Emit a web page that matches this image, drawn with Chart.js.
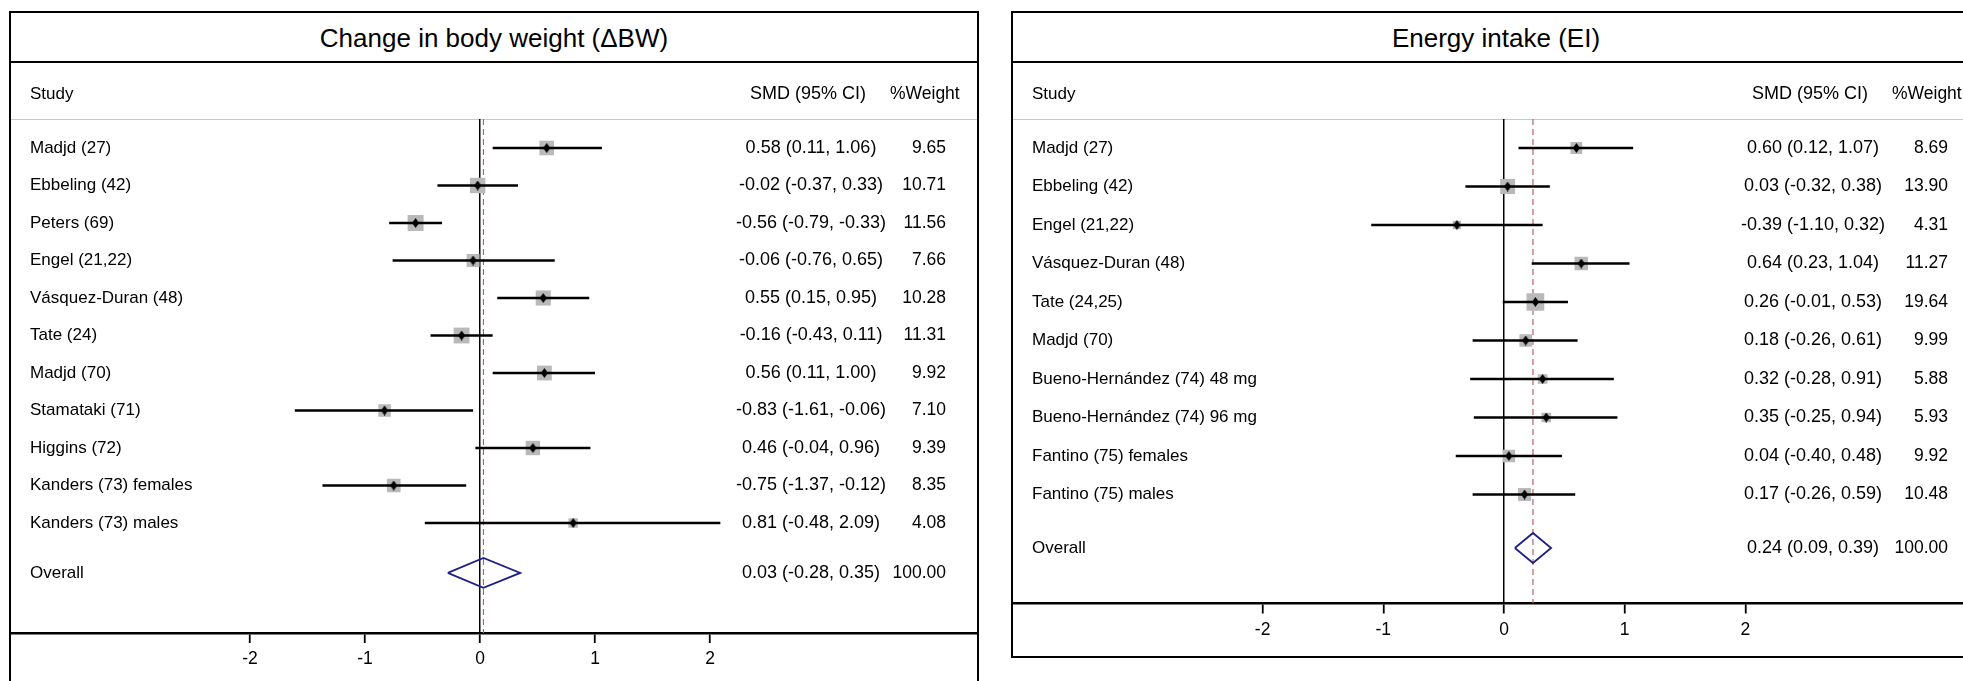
<!DOCTYPE html>
<html>
<head>
<meta charset="utf-8">
<script src="https://cdn.jsdelivr.net/npm/chart.js@4.4.1/dist/chart.umd.min.js"></script>
<style>
  html, body { margin: 0; padding: 0; background: #fff; }
  body { width: 1963px; height: 681px; overflow: hidden; position: relative; font-family: Arial, "Liberation Sans", sans-serif; }
  .panel { position: absolute; top: 11px; width: 970px; border: 2px solid #000; box-sizing: border-box; }
  .title { position: absolute; left: 0; right: 0; top: 0; height: 48px; border-bottom: 2px solid #000; text-align: center; font-size: 26px; line-height: 50px; color: #000; }
  .sep { position: absolute; left: 0; right: 0; top: 106px; height: 1px; background: #c8c8c8; }
  canvas { position: absolute; top: 0; }
</style>
</head>
<body>
<div class="panel" style="left:9px;height:720px;"><div class="title">Change in body weight (ΔBW)</div><div class="sep"></div></div>
<div class="panel" style="left:1011px;height:647px;"><div class="title">Energy intake (EI)</div><div class="sep"></div></div>
<canvas id="bwChart" style="left:10px;"></canvas>
<canvas id="eiChart" style="left:1012px;"></canvas>
<script>
// Datos: cambio de peso corporal (ΔBW)
const bwStudies = ['Madjd (27)', 'Ebbeling (42)', 'Peters (69)', 'Engel (21,22)', 'Vásquez-Duran (48)',
  'Tate (24)', 'Madjd (70)', 'Stamataki (71)', 'Higgins (72)', 'Kanders (73) females', 'Kanders (73) males'];
const bwSmd    = [0.58, -0.02, -0.56, -0.06, 0.55, -0.16, 0.56, -0.83, 0.46, -0.75, 0.81];
const bwLower  = [0.11, -0.37, -0.79, -0.76, 0.15, -0.43, 0.11, -1.61, -0.04, -1.37, -0.48];
const bwUpper  = [1.06, 0.33, -0.33, 0.65, 0.95, 0.11, 1.00, -0.06, 0.96, -0.12, 2.09];
const bwWeight = [9.65, 10.71, 11.56, 7.66, 10.28, 11.31, 9.92, 7.10, 9.39, 8.35, 4.08];
const bwOverall = [0.03, -0.28, 0.35, 100.00];

// Datos: ingesta energética (EI)
const eiStudies = ['Madjd (27)', 'Ebbeling (42)', 'Engel (21,22)', 'Vásquez-Duran (48)', 'Tate (24,25)',
  'Madjd (70)', 'Bueno-Hernández (74) 48 mg', 'Bueno-Hernández (74) 96 mg', 'Fantino (75) females', 'Fantino (75) males'];
const eiSmd    = [0.60, 0.03, -0.39, 0.64, 0.26, 0.18, 0.32, 0.35, 0.04, 0.17];
const eiLower  = [0.12, -0.32, -1.10, 0.23, -0.01, -0.26, -0.28, -0.25, -0.40, -0.26];
const eiUpper  = [1.07, 0.38, 0.32, 1.04, 0.53, 0.61, 0.91, 0.94, 0.48, 0.59];
const eiWeight = [8.69, 13.90, 4.31, 11.27, 19.64, 9.99, 5.88, 5.93, 9.92, 10.48];
const eiOverall = [0.24, 0.09, 0.39, 100.00];

const xTicks = [-2, -1, 0, 1, 2];

const W = 968, H = 681;
const FAMILY = 'Arial, "Liberation Sans", sans-serif';

// Pequeño rombo negro para el punto estimado
const dot = document.createElement('canvas');
dot.width = 7; dot.height = 10;
const dctx = dot.getContext('2d');
dctx.fillStyle = '#000';
dctx.beginPath();
dctx.moveTo(3.5, 0); dctx.lineTo(7, 5); dctx.lineTo(3.5, 10); dctx.lineTo(0, 5);
dctx.closePath(); dctx.fill();

const fmt = v => v.toFixed(2);

// Plugin para las columnas de texto
const forestText = {
  id: 'forestText',
  afterDraw(chart, args, o) {
    const ctx = chart.ctx;
    const ys = chart.scales.y;
    const row = (y, label, est, lo, hi, w) => {
      ctx.font = '17px ' + FAMILY;
      ctx.textAlign = 'left';
      ctx.fillText(label, 20, y);
      ctx.font = '18px ' + FAMILY;
      ctx.textAlign = 'center';
      ctx.fillText(`${fmt(est)} (${fmt(lo)}, ${fmt(hi)})`, 801, y);
      ctx.font = '17.5px ' + FAMILY;
      ctx.textAlign = 'right';
      ctx.fillText(fmt(w), 936, y);
    };
    ctx.save();
    ctx.fillStyle = '#000';
    ctx.textBaseline = 'middle';
    // cabecera
    ctx.font = '17px ' + FAMILY;
    ctx.textAlign = 'left';
    ctx.fillText('Study', 20, 94);
    ctx.font = '17.5px ' + FAMILY;
    ctx.fillText('%Weight', 880, 94);
    ctx.font = '18px ' + FAMILY;
    ctx.textAlign = 'center';
    ctx.fillText('SMD (95% CI)', 798, 94);
    // filas
    o.studies.forEach((s, i) => {
      row(ys.getPixelForValue(i), s, o.smd[i], o.lower[i], o.upper[i], o.weight[i]);
    });
    row(ys.getPixelForValue(o.overallRow), 'Overall', o.overall[0], o.overall[1], o.overall[2], o.overall[3]);
    ctx.restore();
  }
};

function forestChart(id, studies, smd, lower, upper, weight, overall, lay) {
  const canvas = document.getElementById(id);
  canvas.width = W; canvas.height = H;
  const n = studies.length;
  const overallRow = n - 1 + lay.overallGap;
  const xMin = (lay.left - lay.zero) / lay.unit;
  const xMax = (lay.left + W - lay.zero) / lay.unit;
  const yMin = (119 - lay.firstRow) / lay.rowPx;
  const yMax = (lay.axisY - lay.firstRow) / lay.rowPx;
  const halfH = 15 / lay.rowPx;

  const ciLines = studies.map((s, i) => ({
    data: [{ x: lower[i], y: i }, { x: upper[i], y: i }],
    showLine: true, borderColor: '#000', borderWidth: 2.4, pointRadius: 0, order: 2
  }));

  const points = smd.map((v, i) => ({ x: v, y: i }));

  return new Chart(canvas, {
    type: 'scatter',
    data: {
      datasets: [
        {
          // línea discontinua del efecto global
          data: [{ x: overall[0], y: yMin }, { x: overall[0], y: yMax }],
          showLine: true, borderColor: '#b8606a', borderWidth: 1.2, borderDash: [6, 4],
          pointRadius: 0, order: 5
        },
        {
          data: points, pointStyle: 'rect',
          pointRadius: weight.map(w => lay.boxScale * Math.sqrt(w) / Math.SQRT2),
          backgroundColor: '#b9b9b9', borderWidth: 0, order: 3
        },
        ...ciLines,
        {
          data: points, pointStyle: dot, pointRadius: 4, order: 1
        },
        {
          // rombo global
          data: [
            { x: overall[1], y: overallRow }, { x: overall[0], y: overallRow - halfH },
            { x: overall[2], y: overallRow }, { x: overall[0], y: overallRow + halfH },
            { x: overall[1], y: overallRow }
          ],
          showLine: true, borderColor: '#1f1f86', borderWidth: 1.8, pointRadius: 0, order: 1
        }
      ]
    },
    options: {
      responsive: false,
      animation: false,
      events: [],
      layout: { autoPadding: false, padding: { top: 119, bottom: H - lay.axisY - 48, left: 0, right: 0 } },
      plugins: {
        legend: { display: false },
        tooltip: { enabled: false },
        forestText: { studies, smd, lower, upper, weight, overall, overallRow }
      },
      scales: {
        x: {
          type: 'linear', min: xMin, max: xMax,
          afterBuildTicks: s => { s.ticks = xTicks.map(v => ({ value: v })); },
          afterFit: s => { s.height = 48; },
          grid: {
            drawOnChartArea: true,
            color: c => (c.tick && c.tick.value === 0) ? '#000' : 'rgba(0,0,0,0)',
            lineWidth: 1.5, tickColor: '#000', tickLength: 10, tickWidth: 1.8
          },
          border: { display: true, color: '#000', width: 2.5 },
          ticks: { color: '#000', font: { size: 17.5, family: FAMILY }, padding: 6, maxRotation: 0, autoSkip: false }
        },
        y: { type: 'linear', reverse: true, min: yMin, max: yMax, display: false }
      }
    },
    plugins: [forestText]
  });
}

forestChart('bwChart', bwStudies, bwSmd, bwLower, bwUpper, bwWeight, bwOverall,
  { left: 10, zero: 480, unit: 115, firstRow: 148, rowPx: 37.5, axisY: 633, overallGap: 1.33, boxScale: 4.7 });
forestChart('eiChart', eiStudies, eiSmd, eiLower, eiUpper, eiWeight, eiOverall,
  { left: 1012, zero: 1504, unit: 120.7, firstRow: 148, rowPx: 38.5, axisY: 603.5, overallGap: 1.39, boxScale: 4.0 });
</script>
</body>
</html>
